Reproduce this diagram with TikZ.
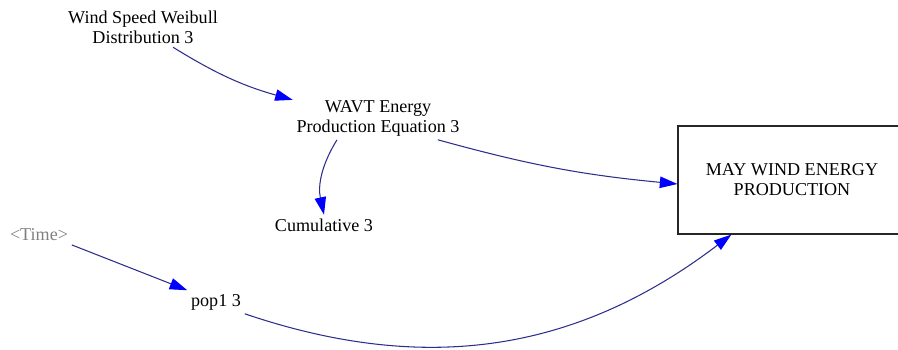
\documentclass[tikz,border=0pt]{standalone}
\usepackage{fontspec}
\setmainfont{Liberation Serif}
\newfontfamily\vensimfont{Liberation Serif}
\usetikzlibrary{arrows.meta}

\definecolor{linkblue}{RGB}{45,45,140}
\definecolor{tipblue}{RGB}{0,0,255}
\definecolor{shadowgray}{RGB}{128,128,128}

\begin{document}
\begin{tikzpicture}[x=0.02cm, y=-0.02cm,
  var/.style={align=center, inner sep=2pt,
    font=\vensimfont\fontsize{10.3}{11.4}\selectfont},
  ghost/.style={var, text=shadowgray},
  level/.style={var, draw=black!85, line width=0.7pt,
    minimum width=4.56cm, minimum height=2.16cm},
  link/.style={draw=linkblue, line width=0.6pt,
    -{Triangle[length=10pt, width=6.5pt, color=tipblue]}}]

  % frame of the picture (the stock box runs past the right edge)
  \path[use as bounding box, clip] (0,0) rectangle (898,350);

  % --- variables ---
  \node[var] (wind) at (143,27) {Wind Speed Weibull\\Distribution 3};
  \node[var] (wavt) at (378,118) {WAVT Energy\\Production Equation 3};
  \node[var] (cum) at (324,225) {Cumulative 3};
  \node[ghost] (time) at (39,235) {<Time>};
  \node[var] (pop) at (216,302) {pop1 3};

  % --- stock ---
  \node[level] (may) at (792,180) {MAY WIND ENERGY\\PRODUCTION};

  % --- causal links ---
  \draw[link] (wind.-34) to[bend right=8] (wavt.168);
  \draw[link] (wavt.208) to[bend right=22] (cum.north);
  \draw[link] (wavt.-20) to[bend right=5] (may.182);
  \draw[link] (time.south east) -- (pop.north west);
  \draw[link] (pop.south east) to[bend right=28] (may.222);
\end{tikzpicture}
\end{document}
